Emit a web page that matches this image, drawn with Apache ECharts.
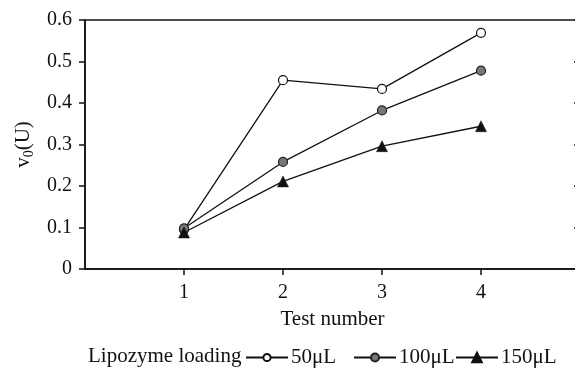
<!DOCTYPE html>
<html>
<head>
<meta charset="utf-8">
<style>
  html, body { margin: 0; padding: 0; background: #fff; }
  #chart { width: 575px; height: 368px; }
</style>
<script src="https://cdn.jsdelivr.net/npm/echarts@6/dist/echarts.min.js"></script>
</head>
<body>
<div id="chart"></div>
<script>
// Initial reaction rate v0 per test run for three lipozyme loadings
const testNumbers = [1, 2, 3, 4];
const yTicks = [0, 0.1, 0.2, 0.3, 0.4, 0.5, 0.6];
const seriesNames = ['50μL', '100μL', '150μL'];
const load50 = [0.095, 0.455, 0.434, 0.569];
const load100 = [0.098, 0.258, 0.382, 0.478];
const load150 = [0.088, 0.211, 0.296, 0.344];

const FONT = '"Liberation Serif", "Times New Roman", serif';
const INK = '#111';

function pairs(values) {
  return testNumbers.map((t, i) => [t, values[i]]);
}

const lineStyle = { color: INK, width: 1.3 };

const chart = echarts.init(document.getElementById('chart'), null, { renderer: 'canvas' });

function legendAt(left, name, height) {
  return {
    data: [name],
    left: left,
    top: 358 - 11,
    orient: 'horizontal',
    itemWidth: 42,
    itemHeight: height,
    itemGap: 0,
    padding: 0,
    textStyle: { fontFamily: FONT, fontSize: 21, color: INK, padding: [0, 0, 0, -2] }
  };
}

chart.setOption({
  animation: false,
  backgroundColor: '#fff',
  grid: {
    left: 85, top: 20, width: 495, height: 249,
    show: true, borderColor: INK, borderWidth: 1.5,
    outerBoundsMode: 'none', containLabel: false
  },
  legend: [
    legendAt(245, seriesNames[0], 9),
    legendAt(353, seriesNames[1], 10),
    legendAt(455, seriesNames[2], 12)
  ],
  graphic: [{
    type: 'text',
    left: 88,
    top: 358 - 12,
    style: { text: 'Lipozyme loading', font: '21px ' + FONT, fill: INK }
  }],
  xAxis: {
    type: 'value',
    min: 0, max: 5, interval: 1,
    name: 'Test number',
    nameLocation: 'middle',
    nameGap: 40,
    nameTextStyle: { fontFamily: FONT, fontSize: 21, color: INK },
    axisLine: { show: true, lineStyle: { color: INK, width: 1.5 } },
    axisTick: { show: true, length: 6, customValues: testNumbers, lineStyle: { color: INK, width: 1.5 } },
    axisLabel: { customValues: testNumbers, margin: 14, fontFamily: FONT, fontSize: 20, color: INK },
    splitLine: { show: false }
  },
  yAxis: [{
    type: 'value',
    min: yTicks[0], max: yTicks[yTicks.length - 1], interval: 0.1,
    position: 'left',
    name: 'v{sub|0}(U)',
    nameLocation: 'middle',
    nameRotate: 90,
    nameGap: 46,
    nameTextStyle: {
      fontFamily: FONT, fontSize: 21, color: INK,
      rich: { sub: { fontFamily: FONT, fontSize: 14, color: INK, verticalAlign: 'bottom', padding: [11, 0, 0, 0] } }
    },
    axisLine: { show: true, lineStyle: { color: INK, width: 1.5 } },
    axisTick: { show: true, length: 6, lineStyle: { color: INK, width: 1.5 } },
    axisLabel: { margin: 13, fontFamily: FONT, fontSize: 20, color: INK },
    splitLine: { show: false }
  }, {
    type: 'value',
    min: yTicks[0], max: yTicks[yTicks.length - 1], interval: 0.1,
    position: 'right',
    axisLine: { show: true, lineStyle: { color: INK, width: 1.5 } },
    axisTick: { show: true, inside: true, length: 6, lineStyle: { color: INK, width: 1.5 } },
    axisLabel: { show: false },
    splitLine: { show: false }
  }],
  series: [{
    name: seriesNames[0],
    type: 'line',
    data: pairs(load50),
    symbol: 'circle', symbolSize: 9,
    lineStyle: lineStyle,
    itemStyle: { color: '#fff', borderColor: INK, borderWidth: 1.2 },
    emphasis: { disabled: true }
  }, {
    name: seriesNames[1],
    type: 'line',
    data: pairs(load100),
    symbol: 'circle', symbolSize: 9,
    lineStyle: lineStyle,
    itemStyle: { color: '#777', borderColor: '#222', borderWidth: 1.2 },
    emphasis: { disabled: true }
  }, {
    name: seriesNames[2],
    type: 'line',
    data: pairs(load150),
    symbol: 'triangle', symbolSize: 11,
    lineStyle: lineStyle,
    itemStyle: { color: INK, borderColor: INK, borderWidth: 0.5 },
    emphasis: { disabled: true }
  }]
});
</script>
</body>
</html>
